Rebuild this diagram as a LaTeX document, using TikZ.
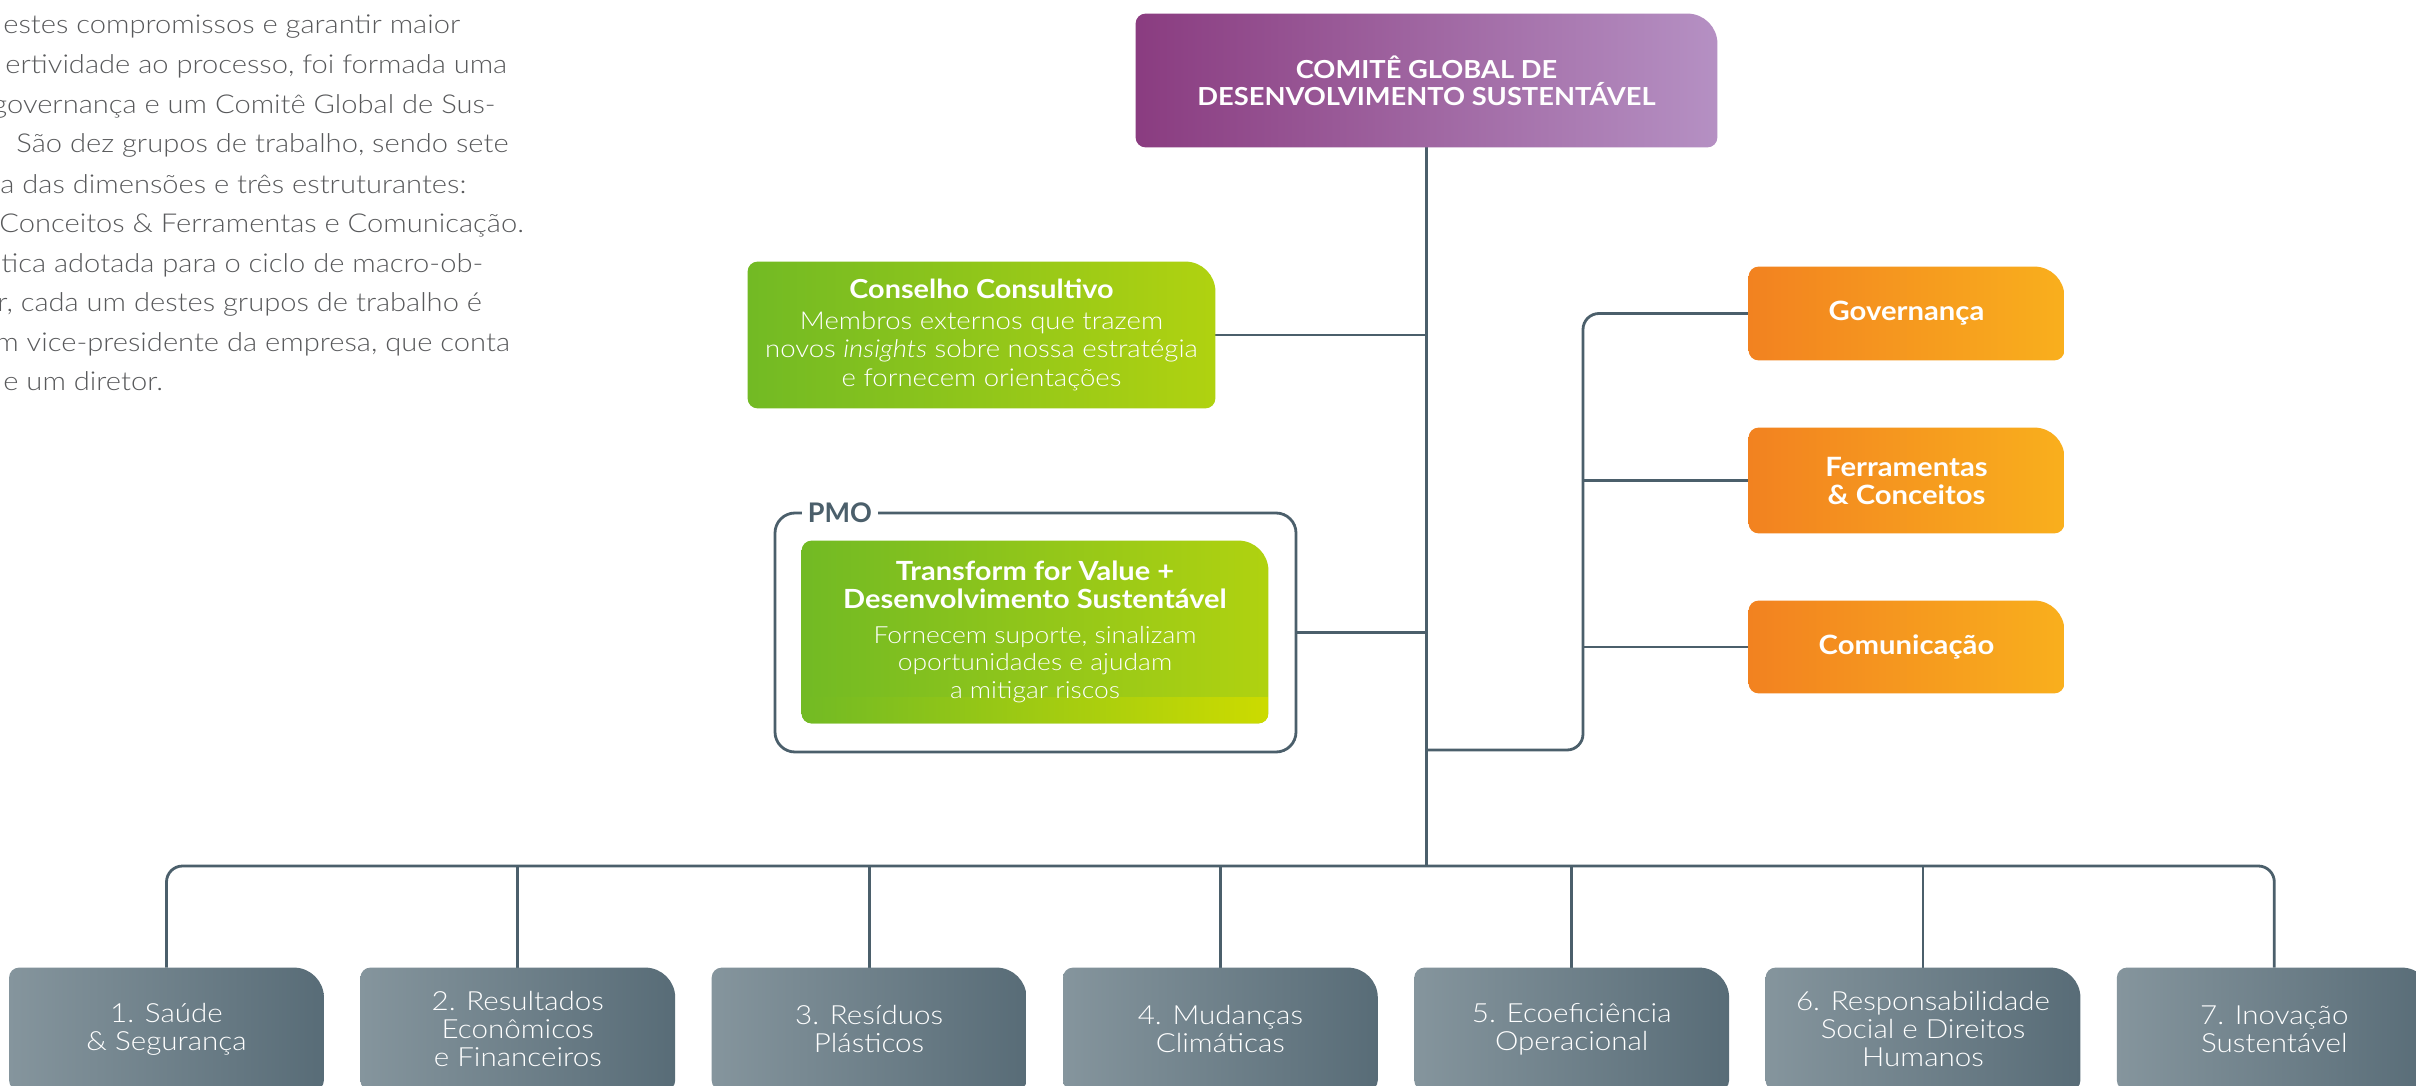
\documentclass[tikz,border=0pt]{standalone}
\usepackage{fontspec}
\usetikzlibrary{calc}
\IfFontExistsTF{Lato Light}{\newfontfamily\lfont{Lato Light}[FakeStretch=1.12]}{\newfontfamily\lfont{Lato}[FakeStretch=1.12]}
\newfontfamily\bfontfam{Lato}
\newfontfamily\bfontW{Lato}[FakeStretch=1.1]
\newcommand\bfnt{\bfontW\bfseries}
\definecolor{slate}{HTML}{4B5F6B}
\definecolor{purL}{HTML}{8A3C80}
\definecolor{purR}{HTML}{B590C3}
\definecolor{grnL}{HTML}{72BA24}
\definecolor{grnR}{HTML}{B0D210}
\definecolor{grnY}{HTML}{CCDB00}
\definecolor{orgL}{HTML}{F28220}
\definecolor{orgR}{HTML}{F9AF1D}
\definecolor{gryL}{HTML}{85959D}
\definecolor{gryR}{HTML}{586C77}
\definecolor{txtgray}{HTML}{58595B}
\pgfdeclarelayer{paper}
\pgfdeclarelayer{background}
\pgfsetlayers{paper,background,main}
\tikzset{
  ln/.style={draw=slate, line width=1.4pt},
  box/.style n args={2}{inner sep=0pt, minimum width=#1, minimum height=#2, align=center, text=white},
  tab/.style n args={3}{insert path={let \p1=(#1.north west), \p2=(#1.south east) in
    (\x1+#2,\y1) -- (\x2-#3,\y1) .. controls (\x2-0.448*#3,\y1) and (\x2,\y1-0.448*#3) .. (\x2,\y1-#3)
    -- (\x2,\y2+#2) .. controls (\x2,\y2+0.448*#2) and (\x2-0.448*#2,\y2) .. (\x2-#2,\y2)
    -- (\x1+#2,\y2) .. controls (\x1+0.448*#2,\y2) and (\x1,\y2+0.448*#2) .. (\x1,\y2+#2)
    -- (\x1,\y1-#2) .. controls (\x1,\y1-0.448*#2) and (\x1+0.448*#2,\y1) .. (\x1+#2,\y1) -- cycle}},
  lt/.style={anchor=base west, inner sep=0pt, text=txtgray, font=\lfont\fontsize{13}{20}\selectfont},
  orange/.style={box={157.5pt}{#1}, font=\bfnt\fontsize{13.3}{14}\selectfont},
  grp/.style={box={157pt}{61pt}, font=\lfont\fontsize{13.2}{14}\selectfont},
}
\begin{document}
\begin{tikzpicture}[x=0.5pt,y=-0.5pt]
\begin{pgfonlayer}{paper}
\fill[white] (0,0) rectangle (2416,1086);
\end{pgfonlayer}
\useasboundingbox (0,0) rectangle (2416,1086);

% left text column (cropped)
\node[lt] (t1) at (3,34) {estes compromissos e garantir maior};
\node[lt] (t2) at (5,74) {ertividade ao processo, foi formada uma};
\node[lt] (t3) at (-8,114) {governança e um Comitê Global de Sus-};
\node[lt] (t4) at (16,153) {São dez grupos de trabalho, sendo sete};
\node[lt] (t5) at (0,193) {a das dimensões e três estruturantes:};
\node[lt] (t6) at (-1,232) {Conceitos \& Ferramentas e Comunicação.};
\node[lt] (t7) at (1,272) {tica adotada para o ciclo de macro-ob-};
\node[lt] (t8) at (-3,311) {r, cada um destes grupos de trabalho é};
\node[lt] (t9) at (-5,351) {m vice-presidente da empresa, que conta};
\node[lt] (t10) at (3,390) {e um diretor.};

% main nodes
\node[box={290.5pt}{66.5pt}, font=\bfnt\fontsize{12.4}{13.5}\selectfont] (top) at (1426.5,80.5)
  {COMITÊ GLOBAL DE\\DESENVOLVIMENTO SUSTENTÁVEL};
\node[box={233.5pt}{73pt}, font=\lfont\fontsize{12.3}{14.3}\selectfont] (cons) at (981.5,335)
  {{\bfnt\fontsize{13.1}{15}\selectfont Conselho Consultivo}\\[1pt]
   Membros externos que trazem\\ novos \textit{insights} sobre nossa estratégia\\ e fornecem orientações};
\node[draw=slate, line width=1.4pt, rounded corners=10pt, inner sep=0pt,
      minimum width=260.5pt, minimum height=119.5pt] (pmo) at (1035.5,632.5) {};
\node[fill=white, inner xsep=3pt, inner ysep=1pt, text=slate, font=\bfontfam\bfseries\fontsize{13.5}{14}\selectfont]
  (pmolab) at (840,513) {PMO};
\node[box={233pt}{91pt}, font=\lfont\fontsize{11.8}{13.8}\selectfont] (tfv) at (1035,632)
  {{\bfnt\fontsize{13.2}{13.5}\selectfont Transform for Value +}\\
   {\bfnt\fontsize{13.2}{13.5}\selectfont Desenvolvimento Sustentável}\\[3.5pt]
   Fornecem suporte, sinalizam\\ oportunidades e ajudam\\ a mitigar riscos};
\node[orange={46.5pt}] (gov) at (1906.5,313.5) {Governança};
\node[orange={52.5pt}] (ferr) at (1906.5,480.5) {Ferramentas\\\& Conceitos};
\node[orange={46pt}] (com) at (1906.5,647) {Comunicação};

\node[grp] (g1) at (166.5,1029) {1. Saúde\\\& Segurança};
\node[grp] (g2) at (517.8,1029) {2. Resultados\\Econômicos\\e Financeiros};
\node[grp] (g3) at (869.1,1029) {3. Resíduos\\Plásticos};
\node[grp] (g4) at (1220.4,1029) {4. Mudanças\\Climáticas};
\node[grp] (g5) at (1571.7,1029) {5. Ecoeficiência\\Operacional};
\node[grp] (g6) at (1923,1029) {6. Responsabilidade\\Social e Direitos\\Humanos};
\node[grp] (g7) at (2274.3,1029) {7. Inovação\\Sustentável};

\coordinate (bus) at (1426.5,866);
\coordinate (rb) at (1583,750);

\begin{pgfonlayer}{background}
  % connectors
  \draw[ln] (top.south) -- (bus);
  \draw[ln] (cons.east) -- (cons.east -| top.south);
  \draw[ln] (pmo.east) -- (pmo.east -| top.south);
  \draw[ln, rounded corners=8pt] (gov.west) -| (rb) -- (rb -| top.south);
  \draw[ln] (ferr.west) -- (ferr.west -| rb);
  \draw[ln] (com.west) -- (com.west -| rb);
  \draw[ln, rounded corners=8pt] (g1.north) |- (bus) -| (g7.north);
  \foreach \g in {g2,g3,g4,g5,g6} { \draw[ln] (\g.north) -- (\g.north |- bus); }
  % box fills
  \shade[left color=purL, right color=purR, tab={top}{5pt}{15pt}];
  \shade[left color=grnL, right color=grnR, tab={cons}{5pt}{15pt}];
  \shade[left color=grnL, right color=grnR, tab={tfv}{5pt}{15pt}];
  \begin{scope}
    \clip[tab={tfv}{5pt}{15pt}];
    \shade[left color=grnL, right color=grnY] ([yshift=13pt]tfv.south west) rectangle (tfv.south east);
  \end{scope}
  \foreach \o in {gov,ferr,com} { \shade[left color=orgL, right color=orgR, tab={\o}{5pt}{15pt}]; }
  \foreach \g in {g1,g2,g3,g4,g5,g6,g7} { \shade[left color=gryL, right color=gryR, tab={\g}{5pt}{15pt}]; }
\end{pgfonlayer}
\end{tikzpicture}
\end{document}
